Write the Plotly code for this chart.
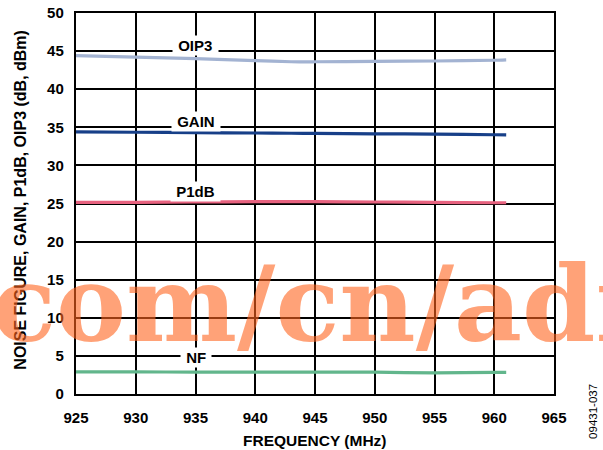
import plotly.graph_objects as go

# ---- data ----
freq = [925, 930, 935, 940, 943, 945, 950, 955, 960, 961]
oip3 = [44.4, 44.2, 44.0, 43.75, 43.6, 43.6, 43.65, 43.7, 43.8, 43.85]
gain = [34.4, 34.35, 34.3, 34.25, 34.22, 34.2, 34.15, 34.1, 34.02, 34.0]
p1db = [25.15, 25.15, 25.2, 25.25, 25.25, 25.25, 25.2, 25.15, 25.1, 25.1]
nf = [2.9, 2.9, 2.88, 2.88, 2.88, 2.88, 2.86, 2.76, 2.85, 2.85]

series_names = ["OIP3", "GAIN", "P1dB", "NF"]
series_values = [oip3, gain, p1db, nf]
series_colors = ["#A3B3D2", "#173F88", "#E7627F", "#62B68C"]
label_x = [935, 935, 935, 935]
label_y = [45.8, 35.7, 26.55, 4.76]

x_ticks = [925, 930, 935, 940, 945, 950, 955, 960, 965]
y_ticks = [0, 5, 10, 15, 20, 25, 30, 35, 40, 45, 50]

FONT = "Liberation Sans, Arial, sans-serif"

fig = go.Figure()
for name, vals, col in zip(series_names, series_values, series_colors):
    fig.add_trace(go.Scatter(x=freq, y=vals, mode="lines", name=name,
                             line=dict(color=col, width=3.2, shape="spline", smoothing=0.6),
                             showlegend=False, hoverinfo="skip"))

annotations = []
for name, lx, ly in zip(series_names, label_x, label_y):
    annotations.append(dict(x=lx, y=ly, xref="x", yref="y", text="\u00a0" + name + "\u00a0",
                            showarrow=False, bgcolor="white", borderpad=1,
                            font=dict(family=FONT, size=15, color="black", weight="bold")))

# axis titles
annotations.append(dict(x=-0.118, y=0.509, xref="paper", yref="paper",
                        text="NOISE FIGURE, GAIN, P1dB, OIP3 (dB, dBm)", textangle=-90,
                        showarrow=False, xanchor="center", yanchor="middle",
                        font=dict(family=FONT, size=16, color="black", weight="bold")))
annotations.append(dict(x=0.5, y=-0.123, xref="paper", yref="paper",
                        text="FREQUENCY (MHz)", showarrow=False,
                        xanchor="center", yanchor="middle",
                        font=dict(family=FONT, size=15.5, color="black", weight="bold")))
annotations.append(dict(x=1.0816, y=-0.047, xref="paper", yref="paper",
                        text="09431-037", textangle=-90, showarrow=False,
                        xanchor="center", yanchor="middle",
                        font=dict(family=FONT, size=11.5, color="black")))
# watermark
annotations.append(dict(x=-0.18, y=0.236, xref="paper", yref="paper",
                        text="com/cn/adi", showarrow=False,
                        xanchor="left", yanchor="middle",
                        font=dict(family="DejaVu Serif", size=105, color="rgba(255,100,30,0.6)",
                                  weight="bold")))

axis_common = dict(showgrid=True, gridcolor="black", gridwidth=2,
                   showline=True, linecolor="black", linewidth=2.4, mirror=True,
                   zeroline=False, ticks="", automargin=False,
                   tickfont=dict(family=FONT, size=15, color="black", weight="bold"))

fig.update_layout(
    template="none",
    width=603, height=450,
    margin=dict(l=76, r=49, t=13, b=56, autoexpand=False),
    paper_bgcolor="white", plot_bgcolor="white",
    annotations=annotations,
    xaxis=dict(range=[925, 965], tickvals=x_ticks, ticktext=[str(v) for v in x_ticks],
               ticklabelstandoff=9, **axis_common),
    yaxis=dict(range=[0, 50], tickvals=y_ticks, ticktext=[str(v) for v in y_ticks],
               ticklabelstandoff=7, **axis_common),
)

fig.write_html("out.html", config={"displayModeBar": False},
               post_script="document.body.style.margin='0';")
